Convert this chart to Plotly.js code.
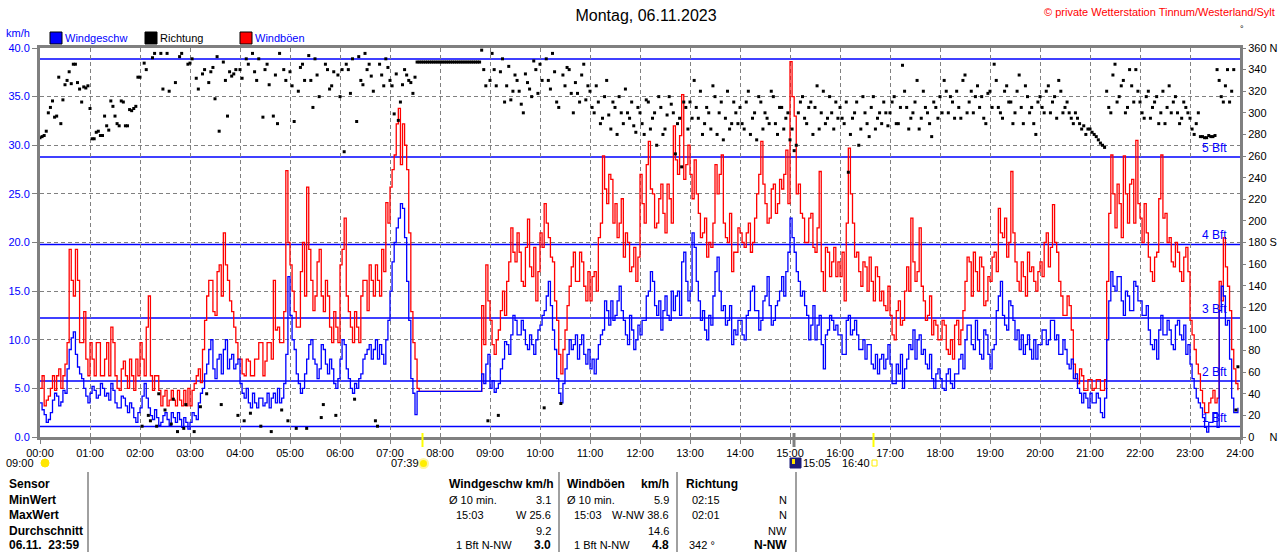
<!DOCTYPE html>
<html><head><meta charset="utf-8">
<script src="https://cdn.plot.ly/plotly-3.0.1.min.js"></script>
<style>html,body{margin:0;padding:0;background:#fff}#chart{width:1280px;height:552px}</style>
</head><body><div id="chart"></div>
<script>
// ---- data: values at each full 5 minutes (hh:00, hh:05 ...) ----
const stepMinutes = 5;
const windSpeed = [
 3.5,2.3,1.8,3.8,4.2,3.6,4.5,9.0,10.8,7.2,6.0,4.2,
 4.5,4.8,4.3,5.0,4.5,5.5,3.5,3.0,4.0,2.5,3.0,1.5,
 3.0,5.5,3.0,1.8,2.0,1.5,2.5,1.2,2.0,2.5,1.0,1.5,
 1.5,2.2,3.5,5.0,7.5,10.0,6.0,8.5,9.0,7.0,8.5,7.5,
 5.5,4.0,3.5,4.5,3.0,4.0,3.5,3.0,4.5,5.0,4.0,8.5,
 12.5,9.0,5.5,5.0,8.0,10.0,7.5,7.0,9.0,6.5,7.0,5.0,
 8.0,9.5,6.0,4.5,5.0,6.5,8.5,9.5,9.0,8.0,8.5,10.0,
 15.0,20.0,22.5,23.5,16.0,6.0,2.3,4.7,4.7,4.7,4.7,4.7,
 4.7,4.7,4.7,4.7,4.7,4.7,4.7,4.7,4.7,4.7,6.5,7.5,
 5.0,4.6,5.5,8.0,9.5,10.5,12.0,10.5,11.0,9.0,9.5,10.0,
 11.5,13.0,16.0,11.0,6.0,3.5,7.0,10.0,9.5,8.0,10.5,7.5,
 7.0,6.5,9.5,11.0,13.0,14.0,12.5,15.5,12.0,9.5,11.0,10.0,
 10.5,12.0,15.0,16.0,12.5,11.0,14.5,12.0,13.0,15.0,18.0,16.0,
 15.0,19.5,14.0,13.0,10.0,11.5,17.0,15.0,13.5,12.0,9.5,10.5,
 12.0,10.0,13.0,15.5,13.0,12.0,14.5,13.5,12.0,14.0,16.5,17.0,
 22.5,19.0,16.0,15.0,12.5,11.5,10.0,12.5,7.0,11.0,12.0,11.5,
 10.5,8.5,12.5,11.0,10.5,9.0,8.0,9.5,7.0,6.5,8.5,8.0,
 7.5,5.5,6.5,5.0,8.0,9.0,8.0,10.5,9.0,7.0,6.0,6.5,
 6.0,4.8,7.0,5.0,6.5,8.5,10.0,11.5,9.0,10.0,8.0,10.5,
 7.0,9.5,14.5,12.5,11.0,13.5,10.0,9.0,8.5,10.5,8.0,8.0,
 9.5,11.0,10.0,12.0,10.5,8.5,9.0,7.0,6.0,5.0,3.5,4.0,
 4.5,3.5,4.0,2.0,10.0,17.0,15.0,16.5,12.5,14.5,13.0,15.5,
 14.0,12.5,11.0,9.0,8.0,12.5,10.5,11.0,9.0,12.0,10.0,8.5,
 7.5,5.0,3.5,2.0,0.5,1.5,2.5,13.0,14.5,12.0,4.0,2.5
];
// values read between them (hh:02.5, hh:07.5 ...)
const windSpeedMid = [
 2.8,1.5,2.5,4.5,3.2,4.8,7.0,10.2,8.5,6.5,5.0,3.5,
 5.2,4.0,5.5,4.2,3.8,4.8,3.0,4.2,3.2,3.5,2.0,2.5,
 4.2,4.0,2.2,2.8,1.2,2.2,1.8,2.5,1.5,1.8,2.0,0.8,
 2.5,1.8,4.5,6.5,9.0,7.0,8.0,6.5,10.0,8.0,7.0,8.0,
 4.5,5.0,3.0,3.5,4.0,3.2,4.5,4.0,3.5,3.5,5.5,16.5,
 10.0,6.5,4.5,6.5,9.5,8.0,6.0,9.5,7.5,8.0,5.5,6.0,
 10.0,7.0,5.0,5.5,6.0,8.0,9.0,8.0,10.0,9.5,7.5,12.0,
 18.0,21.5,24.0,20.5,12.0,4.5,4.7,4.7,4.7,4.7,4.7,4.7,
 4.7,4.7,4.7,4.7,4.7,4.7,4.7,4.7,4.7,4.7,5.5,8.5,
 5.8,5.0,7.0,9.8,8.5,12.5,10.5,12.0,9.5,10.5,8.5,11.0,
 12.5,14.5,13.5,9.0,4.5,5.5,8.5,9.0,10.5,9.5,8.5,9.0,
 8.0,8.0,10.5,14.0,11.5,12.0,14.0,13.0,10.5,12.5,9.0,11.5,
 12.0,14.5,17.0,13.5,14.0,13.0,12.5,15.0,14.5,12.5,19.0,14.0,
 21.0,16.0,12.0,11.0,12.5,14.5,18.5,13.0,11.5,13.5,11.0,12.0,
 10.5,12.5,15.0,13.0,11.0,14.0,16.5,11.5,13.5,15.0,14.5,19.0,
 20.5,17.0,14.5,13.5,10.0,13.5,11.5,9.5,10.5,12.5,11.0,10.5,
 8.5,12.0,10.5,12.0,9.0,10.0,9.5,7.5,8.5,8.0,7.0,9.5,
 5.5,7.5,8.5,7.0,9.5,11.0,10.0,8.5,7.5,8.5,5.0,7.0,
 5.0,6.5,5.5,6.5,8.0,7.0,11.5,9.5,12.0,8.5,11.0,8.5,
 9.0,13.0,16.0,11.5,14.0,12.0,11.0,10.5,9.5,9.0,10.0,9.5,
 11.0,9.5,12.0,10.0,8.5,10.0,7.5,8.0,6.5,4.5,4.5,3.0,
 3.5,4.5,2.5,4.0,14.0,15.5,16.5,14.0,15.0,13.0,16.0,14.0,
 12.5,13.5,9.5,10.0,11.0,10.5,12.0,9.5,11.5,10.5,11.5,9.5,
 6.0,4.0,3.0,1.0,1.5,2.5,1.0,15.5,11.5,8.0,2.5,3.0
];
const windGust = [
 5.0,3.2,4.2,6.3,6.3,5.0,7.5,19.3,14.5,16.1,9.7,8.0,
 9.7,6.3,9.7,6.3,9.7,11.3,6.3,4.8,7.8,5.0,6.3,8.0,
 9.7,6.3,14.5,4.8,6.3,3.2,4.8,3.8,3.8,4.8,3.2,3.2,
 3.2,5.5,7.0,9.0,14.5,16.1,12.5,17.7,21.0,16.1,12.9,9.7,
 8.0,6.3,7.8,6.3,8.0,9.7,7.8,9.7,16.1,11.3,9.7,27.4,
 17.7,12.9,11.3,20.0,25.7,16.1,14.5,19.3,12.9,14.5,9.7,11.3,
 17.7,22.5,12.9,9.7,11.3,14.5,16.1,17.7,14.5,16.1,19.3,24.1,
 25.7,29.0,33.8,32.2,27.5,12.9,8.0,4.7,4.7,4.7,4.7,4.7,
 4.7,4.7,4.7,4.7,4.7,4.7,4.7,4.7,4.7,4.7,13.5,17.7,
 12.0,8.5,11.0,15.0,16.0,21.5,18.0,19.0,15.5,22.4,16.5,14.0,
 21.0,24.0,20.5,18.0,12.0,6.5,11.0,15.5,19.0,16.0,18.0,14.0,
 14.0,17.0,20.5,28.9,24.0,26.5,24.0,22.0,18.5,20.0,17.5,16.0,
 27.0,22.0,30.4,25.0,22.0,26.0,21.0,24.5,32.0,27.0,35.2,28.0,
 27.0,28.5,23.0,21.0,18.5,19.5,28.0,27.0,22.0,20.0,17.0,19.0,
 21.0,19.5,22.0,20.0,25.0,30.4,24.0,22.5,26.0,24.0,25.5,29.5,
 38.6,33.0,26.0,22.5,20.0,23.0,19.0,27.3,15.0,19.0,18.0,16.5,
 16.5,14.0,29.7,22.0,19.0,15.5,17.5,18.5,14.0,16.5,15.0,13.0,
 12.5,10.0,14.0,12.0,17.5,22.5,16.0,21.5,14.0,12.5,10.5,11.5,
 10.0,11.5,8.5,8.0,12.0,11.0,16.0,18.0,19.0,15.0,17.5,14.0,
 16.0,19.0,23.5,20.5,18.5,27.3,18.0,15.0,16.5,19.0,17.5,15.0,
 18.0,20.0,17.5,23.9,19.0,14.5,12.5,13.5,7.5,5.5,6.3,4.8,
 5.9,5.0,5.9,4.8,16.0,29.0,21.5,24.0,28.9,22.0,26.5,30.5,
 22.5,24.0,18.5,16.0,19.0,29.0,23.0,20.5,17.5,19.0,16.0,19.5,
 12.0,9.0,6.5,3.5,2.5,4.0,3.5,16.0,20.5,15.5,9.0,5.5
];
const windGustMid = [
 6.3,3.8,5.0,4.8,7.0,6.3,9.7,16.1,19.3,9.7,12.9,6.3,
 8.0,9.7,6.3,8.0,6.3,9.7,5.0,7.0,6.3,8.0,4.8,6.3,
 8.0,11.3,6.3,6.3,4.8,4.2,3.2,4.8,3.2,3.8,4.8,5.0,
 4.8,6.3,5.6,12.0,16.1,12.9,17.0,14.5,17.7,14.0,11.3,8.0,
 6.5,8.0,6.3,8.0,9.7,6.3,9.7,8.0,11.0,9.7,12.9,20.0,
 15.0,11.3,17.0,14.5,19.3,13.0,18.0,14.5,16.1,11.3,12.9,9.7,
 19.3,14.5,11.3,12.9,9.7,16.1,13.0,16.1,17.7,14.5,17.0,22.0,
 27.5,32.2,28.0,30.0,21.0,9.7,5.0,4.7,4.7,4.7,4.7,4.7,
 4.7,4.7,4.7,4.7,4.7,4.7,4.7,4.7,4.7,4.7,9.5,14.0,
 9.5,10.0,13.0,12.5,18.0,19.0,21.0,16.0,19.5,17.5,19.5,17.0,
 19.5,22.0,18.5,14.0,8.5,9.0,13.5,17.5,16.0,19.0,15.5,17.0,
 16.5,15.0,22.0,25.5,27.0,22.0,20.5,24.5,21.0,17.0,19.5,18.5,
 24.0,28.0,25.5,21.5,24.5,23.0,26.0,22.0,28.5,31.0,26.5,30.0,
 24.5,25.0,20.5,22.5,20.0,22.0,25.0,29.0,20.5,23.0,19.0,21.5,
 20.0,21.0,19.0,22.5,27.0,26.0,22.0,25.5,23.0,26.5,27.0,24.0,
 35.0,25.0,23.0,20.0,22.5,19.5,21.5,17.0,19.5,16.5,19.5,18.0,
 19.0,22.0,25.0,18.5,17.0,18.0,15.0,16.0,17.5,14.0,13.5,15.5,
 10.5,13.0,11.5,15.0,15.0,18.0,17.0,15.5,12.0,14.5,12.0,10.0,
 12.0,9.0,10.0,11.5,9.5,13.0,18.5,14.5,17.0,18.5,13.5,16.5,
 18.5,17.0,21.0,22.5,20.0,21.0,16.0,18.0,14.5,17.0,16.0,17.0,
 16.5,21.0,19.5,20.0,16.0,12.5,14.5,11.0,6.0,7.0,4.8,5.9,
 4.8,5.9,4.8,5.9,23.0,25.0,26.0,20.5,25.0,26.0,22.0,24.0,
 20.0,21.0,17.0,18.5,24.5,22.5,20.0,18.0,20.0,17.0,18.5,17.0,
 10.5,7.5,4.8,2.5,3.5,4.8,4.0,14.0,17.5,13.0,7.0,4.8
];
const windDir = [
 277,279,300,311,297,290,326,338,345,328,310,323,
 304,276,283,279,288,311,297,288,310,288,302,306,
 333,346,20,351,10,355,25,320,35,5,355,30,
 346,5,322,336,40,338,313,283,347,297,334,340,
 340,15,345,355,330,10,340,326,297,290,25,330,
 338,292,320,345,8,330,350,315,30,340,325,20,
 315,264,340,350,292,330,355,345,320,10,335,350,
 330,299,293,326,335,328,333,347,347,347,347,347,
 347,347,347,347,347,347,347,347,347,347,358,325,
 330,340,20,350,325,312,335,320,300,328,315,340,
 345,27,330,355,310,31,325,340,300,318,335,312,
 320,300,310,295,330,285,305,315,290,300,310,282,
 300,280,310,295,270,305,285,315,300,290,250,305,
 310,330,295,280,305,285,315,300,275,320,290,300,
 305,285,320,295,275,310,300,290,315,280,305,295,
 275,265,300,315,290,310,305,285,320,295,300,310,
 305,290,245,295,310,285,300,278,315,295,290,300,
 300,315,290,344,305,295,310,285,320,300,278,305,
 315,330,300,310,320,295,335,310,300,325,315,290,
 320,345,305,295,325,310,300,335,290,315,305,280,
 315,300,325,310,295,320,305,300,290,295,285,280,
 285,280,275,270,320,300,345,315,330,305,325,340,
 310,295,320,305,315,300,290,325,310,300,295,305,
 295,280,300,278,277,278,279,330,310,340,320,25
];
const windDirMid = [
 278,283,305,296,333,312,330,327,345,322,324,325,
 276,282,279,297,284,306,290,311,288,303,304,333,
 10,340,15,355,40,322,355,12,328,352,8,345,
 350,332,28,340,328,342,352,30,330,338,336,20,
 332,350,22,338,350,296,345,5,335,355,340,15,
 325,8,342,330,353,305,335,18,345,322,338,335,
 340,345,318,35,352,326,340,334,15,345,325,342,
 325,336,310,340,330,318,347,347,347,347,347,347,
 347,347,347,347,347,347,347,347,347,347,340,15,
 355,325,338,310,343,320,330,308,336,322,348,318,
 330,350,322,338,305,335,342,318,328,310,345,325,
 305,325,290,315,298,310,280,300,322,295,288,305,
 290,312,285,300,315,280,298,308,262,295,310,285,
 295,305,320,290,300,325,280,310,295,285,310,290,
 290,310,280,300,315,285,295,320,290,305,285,300,
 285,270,310,295,305,280,325,300,290,315,285,295,
 295,310,280,300,270,315,290,305,285,300,310,288,
 310,290,305,320,285,300,330,295,305,290,310,295,
 300,320,315,295,305,330,300,320,315,305,295,318,
 305,330,300,320,310,290,320,305,325,300,290,310,
 305,320,300,315,330,300,310,295,300,290,288,285,
 282,278,272,268,305,335,310,325,300,340,310,320,
 300,315,295,310,290,320,305,300,315,290,310,300,
 285,290,278,277,279,278,340,315,325,310,340,65
];
const hourLabels = ['00:00','01:00','02:00','03:00','04:00','05:00','06:00','07:00','08:00','09:00','10:00','11:00','12:00',
 '13:00','14:00','15:00','16:00','17:00','18:00','19:00','20:00','21:00','22:00','23:00','24:00'];
const bftLimits = [1.08, 5.76, 12.24, 19.8, 28.8, 38.88];
const bftLabels = ['1 Bft','2 Bft','3 Bft','4 Bft','5 Bft',''];
const dirTickVals = [0,20,40,60,80,100,120,140,160,180,200,220,240,260,280,300,320,340,360];
const dirTickText = ['0\u00a0\u00a0\u00a0\u00a0\u00a0N','20','40','60','80','100','120','140','160','180 S','200','220','240','260','280','300','320','340','360 N'];
const tableRowLabels = ['Sensor','MinWert','MaxWert','Durchschnitt','06.11.  23:59'];
const speedCol = [['Ø 10 min.','3.1'],['15:03','W 25.6'],['','9.2'],['1 Bft N-NW','3.0']];
const gustCol = [['Ø 10 min.','5.9'],['15:03','W-NW 38.6'],['','14.6'],['1 Bft N-NW','4.8']];
const dirCol = [['02:15','N'],['02:01','N'],['','NW'],['342 °','N-NW']];

// ---- build interleaved series (full and half steps) ----
function interleave(a, b) { const out = []; a.forEach((v, i) => { out.push(v, b[i]); }); return out; }
const timeHours = interleave(windSpeed.map((_, i) => i * stepMinutes / 60), windSpeed.map((_, i) => (i + 0.5) * stepMinutes / 60));
const speedAll = interleave(windSpeed, windSpeedMid);
const gustAll = interleave(windGust, windGustMid);
const dirAll = interleave(windDir, windDirMid);
const hourVals = hourLabels.map((_, i) => i);

const L = 40, R = 1240, T = 48, B = 437;
const px = x => (x - L) / (R - L);
const py = y => (B - y) / (B - T);
const FONT = 'Liberation Sans, Arial, sans-serif';
const annotations = [];
const shapes = [];
function txt(x, y, text, o) {
  o = o || {};
  annotations.push({xref:'paper', yref:'paper', x:px(x), y:py(y), text: o.bold ? '<b>'+text+'</b>' : text,
    xanchor:o.anchor||'left', yanchor:'middle', showarrow:false, borderpad:0,
    font:{family:FONT, size:o.size||11, color:o.color||'#000'}});
}
function rect(x0, y0, x1, y1, fill, line, lw) {
  shapes.push({type:'rect', xref:'paper', yref:'paper', x0:px(x0), x1:px(x1), y0:py(y0), y1:py(y1),
    fillcolor:fill, line:{color:line||fill, width:lw===undefined?1:lw}, layer:'above'});
}
function vline(x, y0, y1, color, w) {
  shapes.push({type:'line', xref:'paper', yref:'paper', x0:px(x), x1:px(x), y0:py(y0), y1:py(y1),
    line:{color:color, width:w}, layer:'above'});
}

// Beaufort lines
bftLimits.forEach((v, i) => {
  shapes.push({type:'line', xref:'paper', yref:'y', x0:0, x1:1, y0:v, y1:v, line:{color:'#0000FF', width:1.5}, layer:'between'});
  if (bftLabels[i]) annotations.push({xref:'paper', yref:'y', x:px(1228), y:v, text:bftLabels[i], xanchor:'right', yanchor:'bottom',
    showarrow:false, borderpad:0, yshift:1, font:{family:FONT, size:12, color:'#0000FF'}});
});

// header texts
txt(5, 33, 'km/h', {color:'#0000FF'});
rect(50, 32, 62, 44, '#0000FF', '#000', 1); txt(64, 38, 'Windgeschw', {color:'#0000FF'});
rect(145, 32, 157, 44, '#000', '#000', 1); txt(159, 38, 'Richtung');
rect(240, 32, 252, 44, '#FF0000', '#000', 1); txt(254, 38, 'Windböen', {color:'#0000FF'});
txt(1276, 12, '© private Wetterstation Tinnum/Westerland/Sylt', {anchor:'right', color:'#FF0000'});
txt(1242, 29, '°', {anchor:'center', size:9});

// sun / moon markers below axis
vline(422.5, 433, 447, '#FFFF00', 2);
vline(873.5, 433, 447, '#FFFF00', 2);
vline(794, 433, 447, '#808080', 3);
txt(5, 463, '09:00');
shapes.push({type:'circle', xref:'paper', yref:'paper', x0:px(41), x1:px(49), y0:py(467), y1:py(459), fillcolor:'#FFE600', line:{color:'#FFE600', width:1}, layer:'above'});
txt(390, 463, '07:39');
shapes.push({type:'circle', xref:'paper', yref:'paper', x0:px(419), x1:px(428), y0:py(468), y1:py(459), fillcolor:'#FFEE00', line:{color:'#FFF6A0', width:2}, layer:'above'});
rect(790, 458, 801, 468, '#1C1C7A', '#1C1C7A', 1);
rect(792, 459, 795, 464, '#FFE600', '#FFE600', 0);
txt(802, 463, '15:05');
txt(841, 463, '16:40');
rect(872, 460, 877, 466, 'rgba(0,0,0,0)', '#FFEE00', 1);

// table
[88, 559, 677, 796].forEach(x => vline(x, 472, 552, '#A0A0A0', 2));
const rowY = [484, 499.5, 515, 530.5, 545];
tableRowLabels.forEach((t, i) => txt(8, rowY[i], t, {bold:true, size:12}));
txt(448, rowY[0], 'Windgeschw km/h', {bold:true, size:12});
txt(566, rowY[0], 'Windböen', {bold:true, size:12});
txt(670, rowY[0], 'km/h', {bold:true, size:12, anchor:'right'});
txt(685, rowY[0], 'Richtung', {bold:true, size:12});
speedCol.forEach((r, i) => {
  if (r[0]) txt(i === 0 ? 448 : 455, rowY[i+1], r[0]);
  txt(552, rowY[i+1], r[1], {anchor:'right', bold:i===3, size:i===3?12:11});
});
gustCol.forEach((r, i) => {
  if (r[0]) txt(i === 0 ? 566 : 573, rowY[i+1], r[0]);
  txt(670, rowY[i+1], r[1], {anchor:'right', bold:i===3, size:i===3?12:11});
});
dirCol.forEach((r, i) => {
  if (r[0]) txt(i === 3 ? 688 : 691, rowY[i+1], r[0]);
  txt(788, rowY[i+1], r[1], {anchor:'right', bold:i===3, size:i===3?12:11});
});

const traces = [
  {x:timeHours, y:gustAll, type:'scatter', mode:'lines', line:{color:'#FF0000', width:1.3, shape:'hv'}, yaxis:'y', hoverinfo:'skip'},
  {x:timeHours, y:speedAll, type:'scatter', mode:'lines', line:{color:'#0000FF', width:1.3, shape:'hv'}, yaxis:'y', hoverinfo:'skip'},
  {x:timeHours, y:dirAll, type:'scatter', mode:'markers', marker:{color:'#000', size:3, symbol:'square', line:{width:0}}, yaxis:'y2', hoverinfo:'skip'}
];

const layout = {
  width:1280, height:552, margin:{l:40, r:40, t:48, b:115},
  paper_bgcolor:'#fff', plot_bgcolor:'#fff', showlegend:false,
  title:{text:'Montag, 06.11.2023', x:646/1280, xanchor:'center', y:1-15/552, yanchor:'middle', font:{family:FONT, size:16, color:'#000'}},
  xaxis:{range:[0,24], tickvals:hourVals, ticktext:hourLabels, showgrid:true, gridcolor:'#808080', griddash:'4px,3px', gridwidth:1,
    zeroline:false, showline:true, mirror:true, linecolor:'#808080', linewidth:3, ticks:'outside', ticklen:4, tickcolor:'#808080',
    tickfont:{family:FONT, size:11, color:'#000'}, fixedrange:true},
  yaxis:{range:[0,40], dtick:5, tickformat:'.1f', showgrid:true, gridcolor:'#808080', griddash:'4px,3px', gridwidth:1,
    zeroline:false, showline:true, mirror:true, linecolor:'#808080', linewidth:3, ticks:'outside', ticklen:5, tickcolor:'#808080',
    tickfont:{family:FONT, size:11, color:'#0000FF'}, fixedrange:true},
  yaxis2:{range:[0,360], overlaying:'y', side:'right', tickvals:dirTickVals, ticktext:dirTickText, showgrid:false, zeroline:false,
    showline:false, ticks:'outside', ticklen:5, tickcolor:'#808080', tickfont:{family:FONT, size:11, color:'#000'}, fixedrange:true},
  shapes:shapes, annotations:annotations
};
Plotly.newPlot('chart', traces, layout, {staticPlot:true, displayModeBar:false});
</script></body></html>
